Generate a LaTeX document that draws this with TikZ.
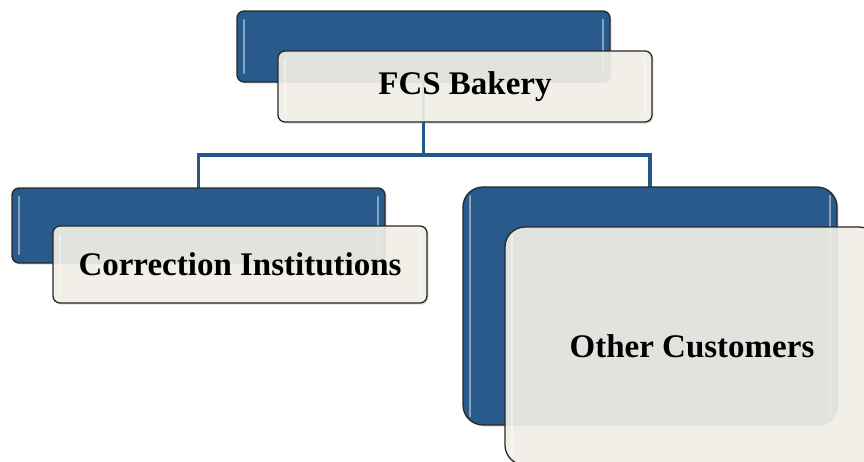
\documentclass[tikz,border=0pt]{standalone}
\usepackage{fontspec}
\setmainfont{Liberation Serif}
\usetikzlibrary{shadows}
\definecolor{boxblue}{RGB}{40,91,139}
\definecolor{connblue}{RGB}{37,88,138}
\definecolor{cream}{RGB}{243,241,232}
\definecolor{edgegray}{RGB}{40,40,40}
\tikzset{
  glossy/.style={path picture={
    \draw[white, opacity=0.45, line width=2.5pt, line cap=round]
      ([xshift=7pt,yshift=-9pt]path picture bounding box.north west) --
      ([xshift=7pt,yshift=9pt]path picture bounding box.south west);
    \draw[white, opacity=0.45, line width=2.5pt, line cap=round]
      ([xshift=-7pt,yshift=-9pt]path picture bounding box.north east) --
      ([xshift=-7pt,yshift=9pt]path picture bounding box.south east);}},
  bluebox/.style={draw=edgegray, line width=1.3pt, fill=boxblue, rounded corners=7pt,
    inner sep=0pt, glossy,
    drop shadow={opacity=0.25, shadow xshift=1.5pt, shadow yshift=-1.5pt}},
  lightbox/.style={draw=edgegray, line width=1.3pt, fill=cream, fill opacity=0.9,
    text opacity=1, rounded corners=7pt, inner sep=0pt, glossy,
    font=\bfseries\fontsize{33}{39}\selectfont, text=black,
    drop shadow={opacity=0.25, shadow xshift=1.5pt, shadow yshift=-1.5pt}},
  conn/.style={draw=connblue, line width=3.5pt},
}
\begin{document}
\begin{tikzpicture}[x=1pt, y=-1pt]
\useasboundingbox (0,0) rectangle (864,461);
\clip (0,0) rectangle (864,461);
\fill[white] (0,0) rectangle (864,461);
% blue back boxes (positions only)
\coordinate (topbc) at (423.5,46.5);
\coordinate (leftbc) at (198.5,225.5);
\coordinate (rightbc) at (650,306);
\coordinate (bus) at (423.5,155);
% connectors drawn behind
\draw[conn] (topbc) -- (bus) -| (leftbc);
\draw[conn] (bus) -| (rightbc);
% back boxes
\node[bluebox, minimum width=373pt, minimum height=71pt] (topb) at (topbc) {};
\node[bluebox, minimum width=373pt, minimum height=75pt] (leftb) at (leftbc) {};
\node[bluebox, rounded corners=20pt, minimum width=374pt, minimum height=238pt] (rightb) at (rightbc) {};
% front boxes
\node[lightbox, minimum width=374pt, minimum height=71pt] (topf) at (465,86.5) {FCS Bakery};
\node[lightbox, minimum width=374pt, minimum height=77pt] (leftf) at (240,264.5) {Correction Institutions};
\node[lightbox, rounded corners=20pt, minimum width=374pt, minimum height=238pt] (rightf) at (692,346) {Other Customers};
\end{tikzpicture}
\end{document}
